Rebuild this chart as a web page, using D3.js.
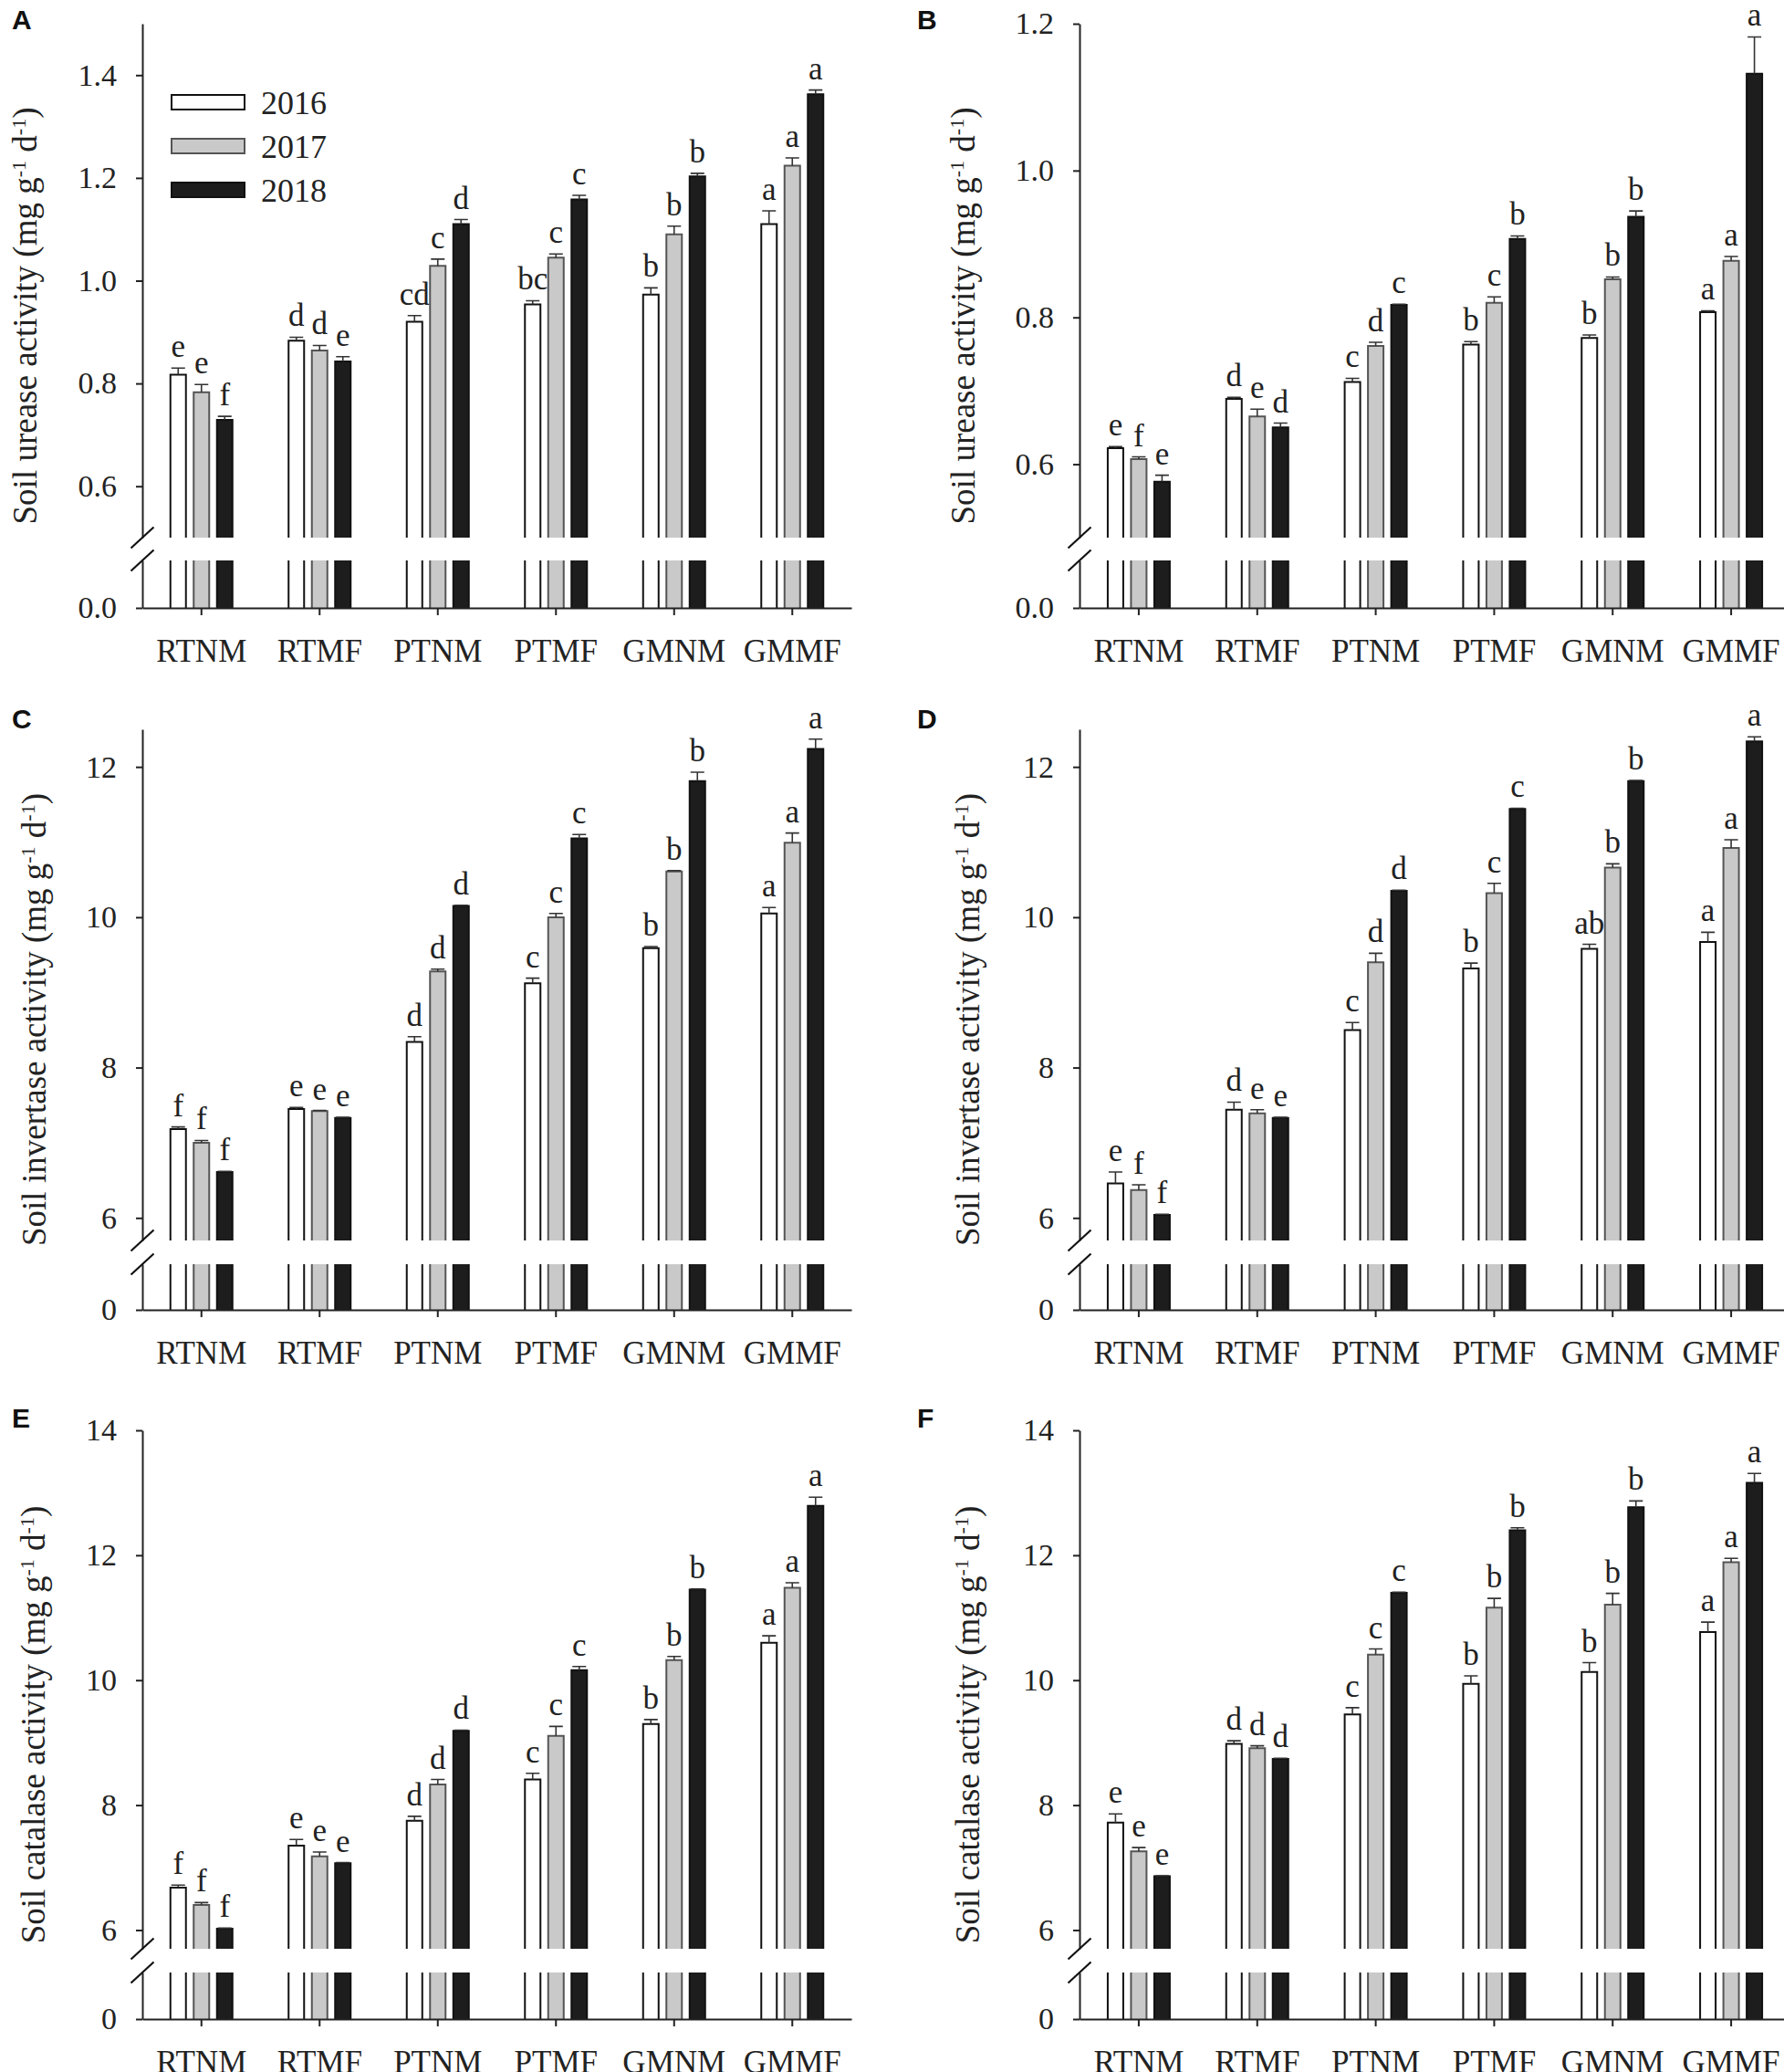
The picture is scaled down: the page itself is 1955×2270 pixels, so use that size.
<!DOCTYPE html>
<html>
<head>
<meta charset="utf-8">
<script src="https://cdn.jsdelivr.net/npm/d3@7"></script>
<style>
body { margin: 0; background: #fff; }
</style>
</head>
<body>
<svg id="chart" width="1955" height="2270"></svg>
<script>
var categories = ["RTNM", "RTMF", "PTNM", "PTMF", "GMNM", "GMMF"];
var years = ["2016", "2017", "2018"];

// A: soil urease (2016, 2017, 2018 rows)
var meanA = [[0.817, 0.883, 0.920, 0.954, 0.973, 1.110],
             [0.783, 0.864, 1.029, 1.045, 1.090, 1.224],
             [0.729, 0.843, 1.110, 1.158, 1.203, 1.363]];
var errA  = [[0.013, 0.007, 0.012, 0.007, 0.013, 0.026],
             [0.015, 0.010, 0.013, 0.007, 0.016, 0.015],
             [0.007, 0.009, 0.009, 0.008, 0.006, 0.008]];
var letA  = [["e", "d", "cd", "bc", "b", "a"],
             ["e", "d", "c", "c", "b", "a"],
             ["f", "e", "d", "c", "b", "a"]];

// B: soil urease
var meanB = [[0.622, 0.689, 0.712, 0.763, 0.772, 0.807],
             [0.607, 0.665, 0.761, 0.820, 0.852, 0.877],
             [0.576, 0.650, 0.817, 0.907, 0.937, 1.132]];
var errB  = [[0.002, 0.002, 0.005, 0.004, 0.004, 0.002],
             [0.003, 0.010, 0.005, 0.008, 0.003, 0.006],
             [0.009, 0.006, 0.001, 0.004, 0.008, 0.050]];
var letB  = [["e", "d", "c", "b", "b", "a"],
             ["f", "e", "d", "c", "b", "a"],
             ["e", "d", "c", "b", "b", "a"]];

// C: soil invertase
var meanC = [[7.18, 7.45, 8.34, 9.12, 9.59, 10.05],
             [7.00, 7.42, 9.28, 10.00, 10.61, 10.99],
             [6.61, 7.33, 10.15, 11.05, 11.81, 12.24]];
var errC  = [[0.03, 0.02, 0.07, 0.07, 0.02, 0.08],
             [0.03, 0.01, 0.03, 0.05, 0.01, 0.13],
             [0.01, 0.01, 0.01, 0.05, 0.12, 0.13]];
var letC  = [["f", "e", "d", "c", "b", "a"],
             ["f", "e", "d", "c", "b", "a"],
             ["f", "e", "d", "c", "b", "a"]];

// D: soil invertase
var meanD = [[6.46, 7.44, 8.50, 9.32, 9.58, 9.67],
             [6.37, 7.39, 9.40, 10.32, 10.66, 10.92],
             [6.04, 7.33, 10.35, 11.44, 11.81, 12.34]];
var errD  = [[0.15, 0.10, 0.10, 0.07, 0.06, 0.13],
             [0.07, 0.05, 0.12, 0.13, 0.05, 0.11],
             [0.01, 0.01, 0.01, 0.01, 0.01, 0.06]];
var letD  = [["e", "d", "c", "b", "ab", "a"],
             ["f", "e", "d", "c", "b", "a"],
             ["f", "e", "d", "c", "b", "a"]];

// E: soil catalase
var meanE = [[6.68, 7.35, 7.75, 8.41, 9.30, 10.60],
             [6.40, 7.18, 8.33, 9.11, 10.32, 11.48],
             [6.02, 7.07, 9.19, 10.16, 11.45, 12.79]];
var errE  = [[0.04, 0.10, 0.07, 0.10, 0.07, 0.11],
             [0.04, 0.07, 0.08, 0.15, 0.06, 0.08],
             [0.01, 0.01, 0.01, 0.06, 0.01, 0.14]];
var letE  = [["f", "e", "d", "c", "b", "a"],
             ["f", "e", "d", "c", "b", "a"],
             ["f", "e", "d", "c", "b", "a"]];

// F: soil catalase
var meanF = [[7.72, 8.98, 9.45, 9.94, 10.13, 10.77],
             [7.26, 8.91, 10.41, 11.16, 11.21, 11.89],
             [6.86, 8.74, 11.40, 12.40, 12.77, 13.16]];
var errF  = [[0.14, 0.05, 0.11, 0.13, 0.15, 0.16],
             [0.06, 0.04, 0.09, 0.15, 0.18, 0.06],
             [0.01, 0.01, 0.01, 0.04, 0.10, 0.15]];
var letF  = [["e", "d", "c", "b", "b", "a"],
             ["e", "d", "c", "b", "b", "a"],
             ["e", "d", "c", "b", "b", "a"]];

var ticksUrease = [0.6, 0.8, 1.0, 1.2, 1.4];
var ticksUreaseB = [0.6, 0.8, 1.0, 1.2];
var ticksInvertase = [6, 8, 10, 12];
var ticksCatalase = [6, 8, 10, 12, 14];

var fills = ["#ffffff", "#c9c9c9", "#1d1d1d"];
var strokes = ["#111111", "#555555", "#111111"];
var serif = "'Liberation Serif', 'Times New Roman', serif";

var svg = d3.select("#chart");

// layout
var rows = [
  {top: 26, brk: 589, lowTop: 614, zero: 666, tag: 32},
  {top: 799, brk: 1359, lowTop: 1385, zero: 1435, tag: 798},
  {top: 1567, brk: 2135, lowTop: 2161, zero: 2212, tag: 1564}
];
var cols = [
  {x0: 156, x1: 933, tagX: 13},
  {x0: 1183, x1: 1962, tagX: 1005}
];

var panels = [
  {id: "A", row: 0, col: 0, mean: meanA, err: errA, let: letA, domain: [0.5, 1.5], ticks: ticksUrease, fmt: d3.format(".1f"), zeroLabel: "0.0", title: "Soil urease activity", titleX: 27, legend: true},
  {id: "B", row: 0, col: 1, mean: meanB, err: errB, let: letB, domain: [0.5, 1.2], ticks: ticksUreaseB, fmt: d3.format(".1f"), zeroLabel: "0.0", title: "Soil urease activity", titleX: 1055},
  {id: "C", row: 1, col: 0, mean: meanC, err: errC, let: letC, domain: [5.7, 12.5], ticks: ticksInvertase, fmt: d3.format("d"), zeroLabel: "0", title: "Soil invertase activity", titleX: 37},
  {id: "D", row: 1, col: 1, mean: meanD, err: errD, let: letD, domain: [5.7, 12.5], ticks: ticksInvertase, fmt: d3.format("d"), zeroLabel: "0", title: "Soil invertase activity", titleX: 1060},
  {id: "E", row: 2, col: 0, mean: meanE, err: errE, let: letE, domain: [5.7, 14], ticks: ticksCatalase, fmt: d3.format("d"), zeroLabel: "0", title: "Soil catalase activity", titleX: 36},
  {id: "F", row: 2, col: 1, mean: meanF, err: errF, let: letF, domain: [5.7, 14], ticks: ticksCatalase, fmt: d3.format("d"), zeroLabel: "0", title: "Soil catalase activity", titleX: 1060}
];

var barW = 17, barStep = 25.5;

panels.forEach(function(p) {
  var r = rows[p.row], c = cols[p.col];
  var g = svg.append("g");

  var x = d3.scaleBand().domain(categories).range([c.x0, c.x1]);
  var y = d3.scaleLinear().domain(p.domain).range([r.brk, r.top]);
  var yLow = d3.scaleLinear().domain([0, 1]).range([r.zero, r.lowTop]);

  var recs = [];
  years.forEach(function(yr, i) {
    categories.forEach(function(cat, j) {
      recs.push({i: i, cat: cat, v: p.mean[i][j], e: p.err[i][j], l: p.let[i][j],
                 bx: x(cat) + x.bandwidth() / 2 + (i - 1) * barStep - barW / 2});
    });
  });

  // upper part of bars
  g.selectAll(".up").data(recs).enter().append("rect")
    .attr("x", function(d) { return d.bx; })
    .attr("y", function(d) { return y(d.v); })
    .attr("width", barW)
    .attr("height", function(d) { return r.brk - y(d.v); })
    .attr("fill", function(d) { return fills[d.i]; });
  g.selectAll(".upline").data(recs).enter().append("path")
    .attr("d", function(d) {
      return "M" + d.bx + "," + r.brk + "V" + y(d.v) + "H" + (d.bx + barW) + "V" + r.brk;
    })
    .attr("fill", "none")
    .attr("stroke", function(d) { return strokes[d.i]; })
    .attr("stroke-width", 2);

  // lower part of bars
  g.selectAll(".low").data(recs).enter().append("rect")
    .attr("x", function(d) { return d.bx; })
    .attr("y", yLow(1))
    .attr("width", barW)
    .attr("height", yLow(0) - yLow(1))
    .attr("fill", function(d) { return fills[d.i]; });
  g.selectAll(".lowline").data(recs).enter().append("path")
    .attr("d", function(d) {
      return "M" + d.bx + "," + yLow(1) + "V" + yLow(0) + "M" + (d.bx + barW) + "," + yLow(1) + "V" + yLow(0);
    })
    .attr("stroke", function(d) { return strokes[d.i]; })
    .attr("stroke-width", 2);

  // error bars (upper only)
  g.selectAll(".err").data(recs).enter().append("path")
    .attr("d", function(d) {
      var cx = d.bx + barW / 2, t = y(d.v + d.e);
      return "M" + cx + "," + y(d.v) + "V" + t + "M" + (cx - 7.5) + "," + t + "H" + (cx + 7.5);
    })
    .attr("fill", "none")
    .attr("stroke", "#333")
    .attr("stroke-width", 1.6);

  // significance letters
  g.selectAll(".let").data(recs).enter().append("text")
    .attr("x", function(d) { return d.bx + barW / 2; })
    .attr("y", function(d) { return y(d.v + d.e) - 12; })
    .attr("text-anchor", "middle")
    .style("font-family", serif)
    .style("font-size", "35px")
    .attr("fill", "#222")
    .text(function(d) { return d.l; });

  // y axis, upper part
  var ax = g.append("g")
    .attr("transform", "translate(" + c.x0 + ",0)")
    .call(d3.axisLeft(y).tickValues(p.ticks).tickFormat(p.fmt).tickSize(7).tickPadding(21).tickSizeOuter(0));
  // y axis, lower part
  var axLow = g.append("g")
    .attr("transform", "translate(" + c.x0 + ",0)")
    .call(d3.axisLeft(yLow).tickValues([0]).tickFormat(function() { return p.zeroLabel; }).tickSize(7).tickPadding(21).tickSizeOuter(0));
  // x axis
  var axX = g.append("g")
    .attr("transform", "translate(0," + r.zero + ")")
    .call(d3.axisBottom(x).tickSize(8).tickPadding(26).tickSizeOuter(0));

  [ax, axLow, axX].forEach(function(a) {
    a.selectAll("path, line").attr("stroke", "#222").attr("stroke-width", 2);
    a.selectAll("text").style("font-family", serif).style("font-size", "35px").attr("fill", "#222");
  });
  ax.selectAll("text").style("font-size", "34px");
  axLow.selectAll("text").style("font-size", "34px");

  // break marks
  [r.brk, r.lowTop].forEach(function(yy) {
    g.append("line")
      .attr("x1", c.x0 - 12.5).attr("y1", yy + 11.5)
      .attr("x2", c.x0 + 12.5).attr("y2", yy - 11.5)
      .attr("stroke", "#111").attr("stroke-width", 2.2);
  });

  // y title
  var tx = g.append("text")
    .attr("transform", "translate(" + p.titleX + "," + ((r.top + r.zero) / 2) + ") rotate(-90)")
    .attr("text-anchor", "middle")
    .attr("dy", "0.35em")
    .style("font-family", serif)
    .style("font-size", "37px")
    .attr("fill", "#222");
  tx.append("tspan").text(p.title + " (mg g");
  tx.append("tspan").attr("baseline-shift", "super").style("font-size", "22px").text("-1");
  tx.append("tspan").text(" d");
  tx.append("tspan").attr("baseline-shift", "super").style("font-size", "22px").text("-1");
  tx.append("tspan").text(")");

  // panel tag
  g.append("text")
    .attr("x", c.tagX).attr("y", r.tag)
    .style("font-family", "'Liberation Sans', Arial, sans-serif")
    .style("font-weight", "bold")
    .style("font-size", "30px")
    .attr("fill", "#111")
    .text(p.id);

  // legend
  if (p.legend) {
    var lg = g.selectAll(".lg").data(years).enter().append("g")
      .attr("transform", function(d, i) { return "translate(188," + (104 + i * 48) + ")"; });
    lg.append("rect")
      .attr("width", 80).attr("height", 16)
      .attr("fill", function(d, i) { return fills[i]; })
      .attr("stroke", function(d, i) { return strokes[i]; })
      .attr("stroke-width", 2);
    lg.append("text")
      .attr("x", 98).attr("y", 21)
      .style("font-family", serif)
      .style("font-size", "36px")
      .attr("fill", "#222")
      .text(function(d) { return d; });
  }
});
</script>
</body>
</html>
